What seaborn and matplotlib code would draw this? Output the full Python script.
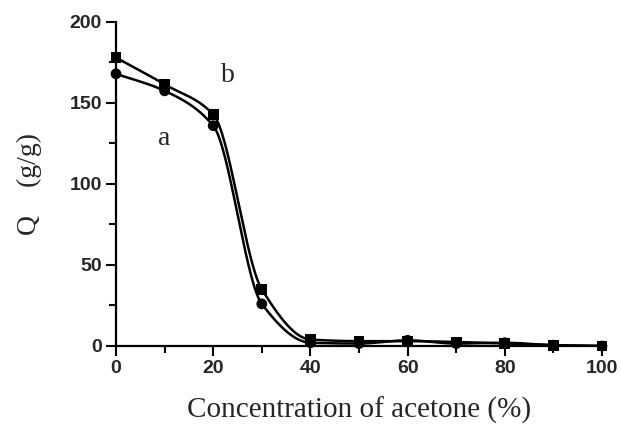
import numpy as np
import pandas as pd
import matplotlib
matplotlib.use("Agg")
import matplotlib.pyplot as plt
import seaborn as sns
from matplotlib.ticker import MultipleLocator

# Swelling ratio Q versus acetone concentration
conc = [0, 10, 20, 30, 40, 50, 60, 70, 80, 90, 100]
q_a = [168, 157.5, 136, 26, 2, 1.5, 3.5, 1.5, 2, 0.5, 0]
q_b = [178, 161.5, 143, 35, 4, 3, 3, 2.5, 1.5, 0.5, 0]
x_ticks = [0, 20, 40, 60, 80, 100]
y_ticks = [0, 50, 100, 150, 200]


def pchip(x, y, xs):
    """Monotone cubic (Fritsch-Carlson) curve through the measured points."""
    x = np.asarray(x, float)
    y = np.asarray(y, float)
    h = np.diff(x)
    d = np.diff(y) / h
    m = np.zeros_like(y)
    for k in range(1, len(x) - 1):
        if d[k - 1] * d[k] > 0:
            w1 = 2 * h[k] + h[k - 1]
            w2 = h[k] + 2 * h[k - 1]
            m[k] = (w1 + w2) / (w1 / d[k - 1] + w2 / d[k])
    m[0] = d[0]
    m[-1] = d[-1]
    idx = np.clip(np.searchsorted(x, xs) - 1, 0, len(x) - 2)
    t = (xs - x[idx]) / h[idx]
    h00 = 2 * t**3 - 3 * t**2 + 1
    h10 = t**3 - 2 * t**2 + t
    h01 = -2 * t**3 + 3 * t**2
    h11 = t**3 - t**2
    return (h00 * y[idx] + h10 * h[idx] * m[idx]
            + h01 * y[idx + 1] + h11 * h[idx] * m[idx + 1])


sns.set_style("ticks")
plt.rcParams["font.family"] = ["Liberation Sans", "DejaVu Sans"]

fig = plt.figure(figsize=(6.21, 4.25), dpi=100)
ax = fig.add_axes([0.1868, 0.1859, 0.7826, 0.7624])

xs = np.linspace(0, 100, 600)
curves = pd.DataFrame({
    "conc": np.concatenate([xs, xs]),
    "Q": np.concatenate([pchip(conc, q_a, xs), pchip(conc, q_b, xs)]),
    "series": ["a"] * len(xs) + ["b"] * len(xs),
})
points = pd.DataFrame({
    "conc": conc + conc,
    "Q": q_a + q_b,
    "series": ["a"] * len(conc) + ["b"] * len(conc),
})

sns.lineplot(data=curves, x="conc", y="Q", units="series", estimator=None,
             color="black", linewidth=1.8, ax=ax, legend=False)
sns.scatterplot(data=points, x="conc", y="Q", style="series",
                markers={"a": "o", "b": "s"}, color="black", s=60,
                edgecolor="black", linewidth=0, ax=ax, legend=False,
                clip_on=False, zorder=5)

ax.set_xlim(0, 100)
ax.set_ylim(0, 200)
ax.set_xticks(x_ticks)
ax.set_yticks(y_ticks)
ax.xaxis.set_minor_locator(MultipleLocator(10))
ax.yaxis.set_minor_locator(MultipleLocator(25))
ax.tick_params(which="major", length=7, width=1.5, labelsize=14,
               direction="out", color="black", pad=3)
ax.tick_params(which="minor", length=5, width=1.5, direction="out",
               color="black")
for lbl in ax.get_xticklabels() + ax.get_yticklabels():
    lbl.set_fontweight("bold")
for s in ("left", "bottom"):
    ax.spines[s].set_linewidth(1.6)
    ax.spines[s].set_color("black")
sns.despine(ax=ax)

serif = ["Liberation Serif", "DejaVu Serif"]
ax.set_xlabel("Concentration of acetone (%)", family=serif, fontsize=21,
              labelpad=14)
ax.set_ylabel("Q    (g/g)", family=serif, fontsize=20, labelpad=20)
ax.text(10, 128, "a", family=serif, fontsize=20, ha="center", va="center")
ax.text(23, 167, "b", family=serif, fontsize=20, ha="center", va="center")

fig.savefig("out.png", dpi=100)
